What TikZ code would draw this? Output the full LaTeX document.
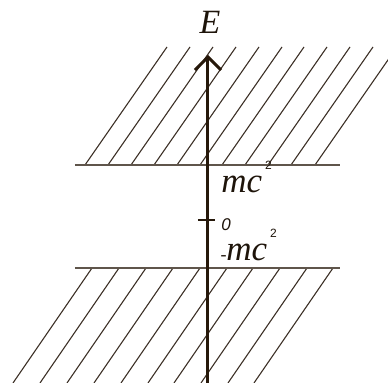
\documentclass[tikz,border=0pt]{standalone}
\usepackage{fontspec}
\setmainfont{Liberation Serif}
\setsansfont{Liberation Sans}
\usepackage{tikz}
\usetikzlibrary{arrows.meta, positioning}

\begin{document}
\begin{tikzpicture}[
            x=0.5pt, y=-0.5pt,
            hatch/.style={line width=0.55pt, color={rgb,255:red,60;green,48;blue,38}},
            level/.style={line width=1pt, color={rgb,255:red,95;green,85;blue,75}},
            axis/.style={line width=1.5pt, color={rgb,255:red,38;green,24;blue,10},
                    -{Straight Barb[length=6.5pt, width=13pt, line width=1.5pt]}},
            sym/.style={font=\fontsize{17.5}{19}\selectfont\itshape, inner sep=0pt,
                    color={rgb,255:red,30;green,20;blue,10}},
            num/.style={font=\fontsize{8.5}{9}\selectfont\sffamily\itshape, inner sep=0pt,
                    color={rgb,255:red,30;green,20;blue,10}},
            pow/.style={font=\fontsize{6}{6}\selectfont\sffamily, inner sep=0pt,
                    color={rgb,255:red,30;green,20;blue,10}}
        ]

        \useasboundingbox (0,0) rectangle (388,383);

        % ---------------------------------------------------------------
        % HATCHED REGIONS
        % ---------------------------------------------------------------
        \begin{scope}
            \clip (0,0) rectangle (388,383);
            % upper continuum (E > mc^2)
            \foreach \x in {85,108,131,154,177,200,222,245,268,291,315}
                \draw[hatch] (\x,165) -- (\x+82,47);
            % lower continuum (E < -mc^2)
            \foreach \x in {92,119,146,173,200,227,253,280,307,333}
                \draw[hatch] (\x,268) -- (\x-79,383);
        \end{scope}

        % Levels
        \coordinate (upl) at (75,165);
        \coordinate (upr) at (340,165);
        \coordinate (lol) at (75,268);
        \coordinate (lor) at (340,268);
        \draw[level] (upl) -- (upr);
        \draw[level] (lol) -- (lor);

        % ---------------------------------------------------------------
        % ENERGY AXIS
        % ---------------------------------------------------------------
        \coordinate (base) at (208,383);
        \coordinate (tip) at (208,55);
        \draw[axis] (base) -- (tip);

        % zero tick
        \coordinate (tickl) at (198,220);
        \coordinate (tickr) at (215,220);
        \draw[line width=1pt, color={rgb,255:red,38;green,24;blue,10}] (tickl) -- (tickr);

        % ---------------------------------------------------------------
        % LABELS
        % ---------------------------------------------------------------
        \node[sym, font=\fontsize{17}{19}\selectfont\itshape] (elabel) at (210,22) {E};
        \node[sym, anchor=base west] (upmc) at (221,193) {mc};
        \node[pow, anchor=south west] (uppow) at ([xshift=1pt, yshift=3pt]upmc.north east) {2};
        \node[num, anchor=west] (zero) at (221,225) {0};
        \node[sym, anchor=base west] (lomc) at (226,261) {mc};
        \node[sym, anchor=base east, font=\fontsize{9}{9}\selectfont] (minus) at ([xshift=0.5pt]lomc.base west) {-};
        \node[pow, anchor=south west] (lopow) at ([xshift=1pt, yshift=3pt]lomc.north east) {2};

    \end{tikzpicture}
\end{document}
